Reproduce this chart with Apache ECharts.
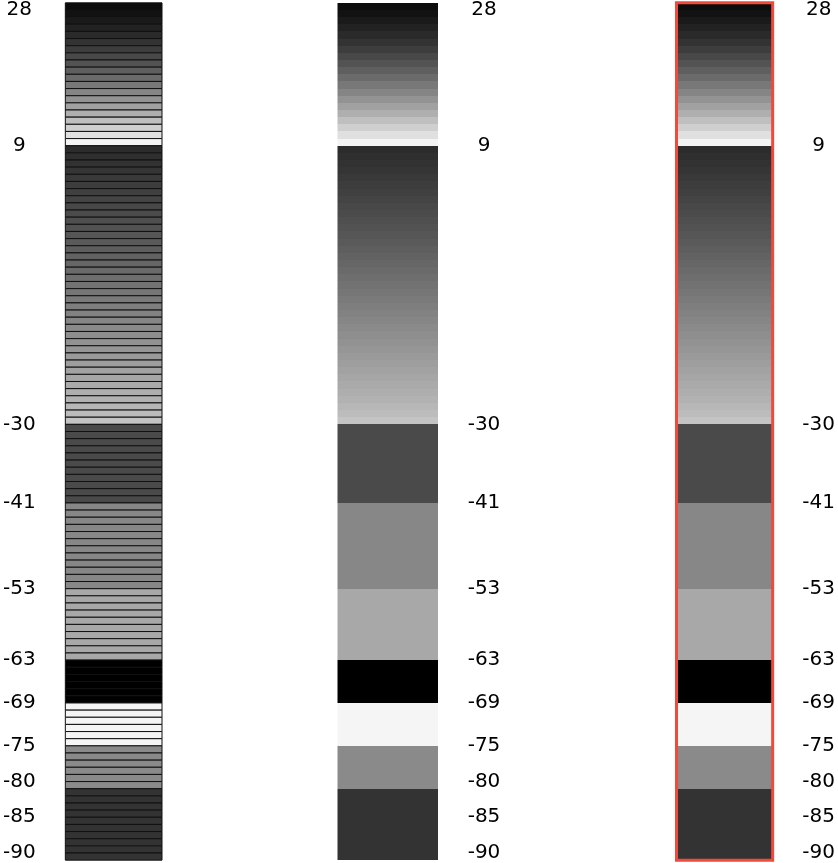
<!DOCTYPE html>
<html>
<head>
<meta charset="utf-8">
<script src="https://cdn.jsdelivr.net/npm/echarts@6/dist/echarts.min.js"></script>
<style>
html,body{margin:0;padding:0;background:#fff;}
#chart{width:838px;height:863px;}
</style>
</head>
<body>
<div id="chart"></div>
<script>
// Group boundaries (top to bottom), one stripe per unit
const groupBounds = [29, 9, -30, -41, -53, -63, -69, -75, -81, -91];
// Grey level of each stripe within a group (a single value = whole group the same grey)
const shadesG1 = [12, 18, 26, 34, 42, 51, 61, 72, 83, 95, 107, 120, 133, 147, 161, 175, 191, 207, 224, 244];
const shadesG2 = [44, 47, 50, 53, 57, 61, 64, 68, 72, 75, 79, 82, 86, 90, 94, 98, 102, 106, 110, 114,
                  118, 122, 126, 130, 134, 138, 142, 146, 150, 154, 158, 162, 166, 170, 174, 178, 183, 188, 196];
const shadesG3 = [74];
const shadesG4 = [135];
const shadesG5 = [168];
const shadesG6 = [0];
const shadesG7 = [245];
const shadesG8 = [138];
const shadesG9 = [51];
const groupShades = [shadesG1, shadesG2, shadesG3, shadesG4, shadesG5, shadesG6, shadesG7, shadesG8, shadesG9];
// Axis tick labels
const tickLabels = [28, 9, -30, -41, -53, -63, -69, -75, -80, -85, -90];

// Build stripe table [x, lo, hi, shade]
const stripes = [];
for (let g = 0; g < groupShades.length; g++) {
  const hiG = groupBounds[g], loG = groupBounds[g + 1];
  const sh = groupShades[g];
  let i = 0;
  for (let v = hiG; v > loG; v--) {
    const s = sh.length === 1 ? sh[0] : sh[i];
    stripes.push([0, v - 1, v, s]);
    i++;
  }
}
const outline = [[0, groupBounds[groupBounds.length - 1], groupBounds[0]]];

function makeRender(stroke, lw, snap) {
  return function (params, api) {
    const p0 = api.coord([0, api.value(2)]);
    const p1 = api.coord([1, api.value(1)]);
    let y0 = p0[1], y1 = p1[1];
    if (snap) { y0 = Math.round(y0); y1 = Math.round(y1); }
    const s = api.value(3);
    return {
      type: 'rect',
      shape: { x: p0[0], y: y0, width: p1[0] - p0[0], height: y1 - y0 },
      style: { fill: 'rgb(' + s + ',' + s + ',' + s + ')', stroke: stroke, lineWidth: lw }
    };
  };
}
function outlineRender(params, api) {
  const p0 = api.coord([0, api.value(2)]);
  const p1 = api.coord([1, api.value(1)]);
  return {
    type: 'rect',
    shape: { x: p0[0], y: p0[1], width: p1[0] - p0[0], height: p1[1] - p0[1] },
    style: { fill: 'none', stroke: '#ee4b3c', lineWidth: 3 }
  };
}

const yMin = groupBounds[groupBounds.length - 1], yMax = groupBounds[0];
function yAx(idx, pos) {
  return {
    type: 'value', gridIndex: idx, position: pos, min: yMin, max: yMax,
    axisLine: { show: false }, axisTick: { show: false }, splitLine: { show: false },
    axisLabel: {
      customValues: tickLabels, align: 'center', margin: 46,
      fontSize: 20, fontFamily: 'DejaVu Sans', color: '#000'
    }
  };
}
function xAx(idx) {
  return { type: 'value', gridIndex: idx, min: 0, max: 1, show: false };
}

const chart = echarts.init(document.getElementById('chart'), null, { renderer: 'canvas' });
chart.setOption({
  animation: false,
  backgroundColor: '#fff',
  grid: [
    { left: 62, width: 100, top: 1.5, bottom: 1.5 },
    { left: 337.5, width: 100.5, top: 1.5, bottom: 1.5 },
    { left: 676.5, width: 98, top: 1.5, bottom: 1.5 }
  ],
  xAxis: [xAx(0), xAx(1), xAx(2)],
  yAxis: [yAx(0, 'left'), yAx(1, 'right'), yAx(2, 'right')],
  series: [
    { type: 'custom', xAxisIndex: 0, yAxisIndex: 0, data: stripes, clip: false,
      encode: { x: 0, y: [1, 2] }, renderItem: makeRender('#111', 1, false) },
    { type: 'custom', xAxisIndex: 1, yAxisIndex: 1, data: stripes, clip: false,
      encode: { x: 0, y: [1, 2] }, renderItem: makeRender(null, 0, true) },
    { type: 'custom', xAxisIndex: 2, yAxisIndex: 2, data: stripes, clip: false,
      encode: { x: 0, y: [1, 2] }, renderItem: makeRender(null, 0, true) },
    { type: 'custom', xAxisIndex: 2, yAxisIndex: 2, data: outline, clip: false, z: 5,
      encode: { x: 0, y: [1, 2] }, renderItem: outlineRender }
  ]
});
</script>
</body>
</html>
